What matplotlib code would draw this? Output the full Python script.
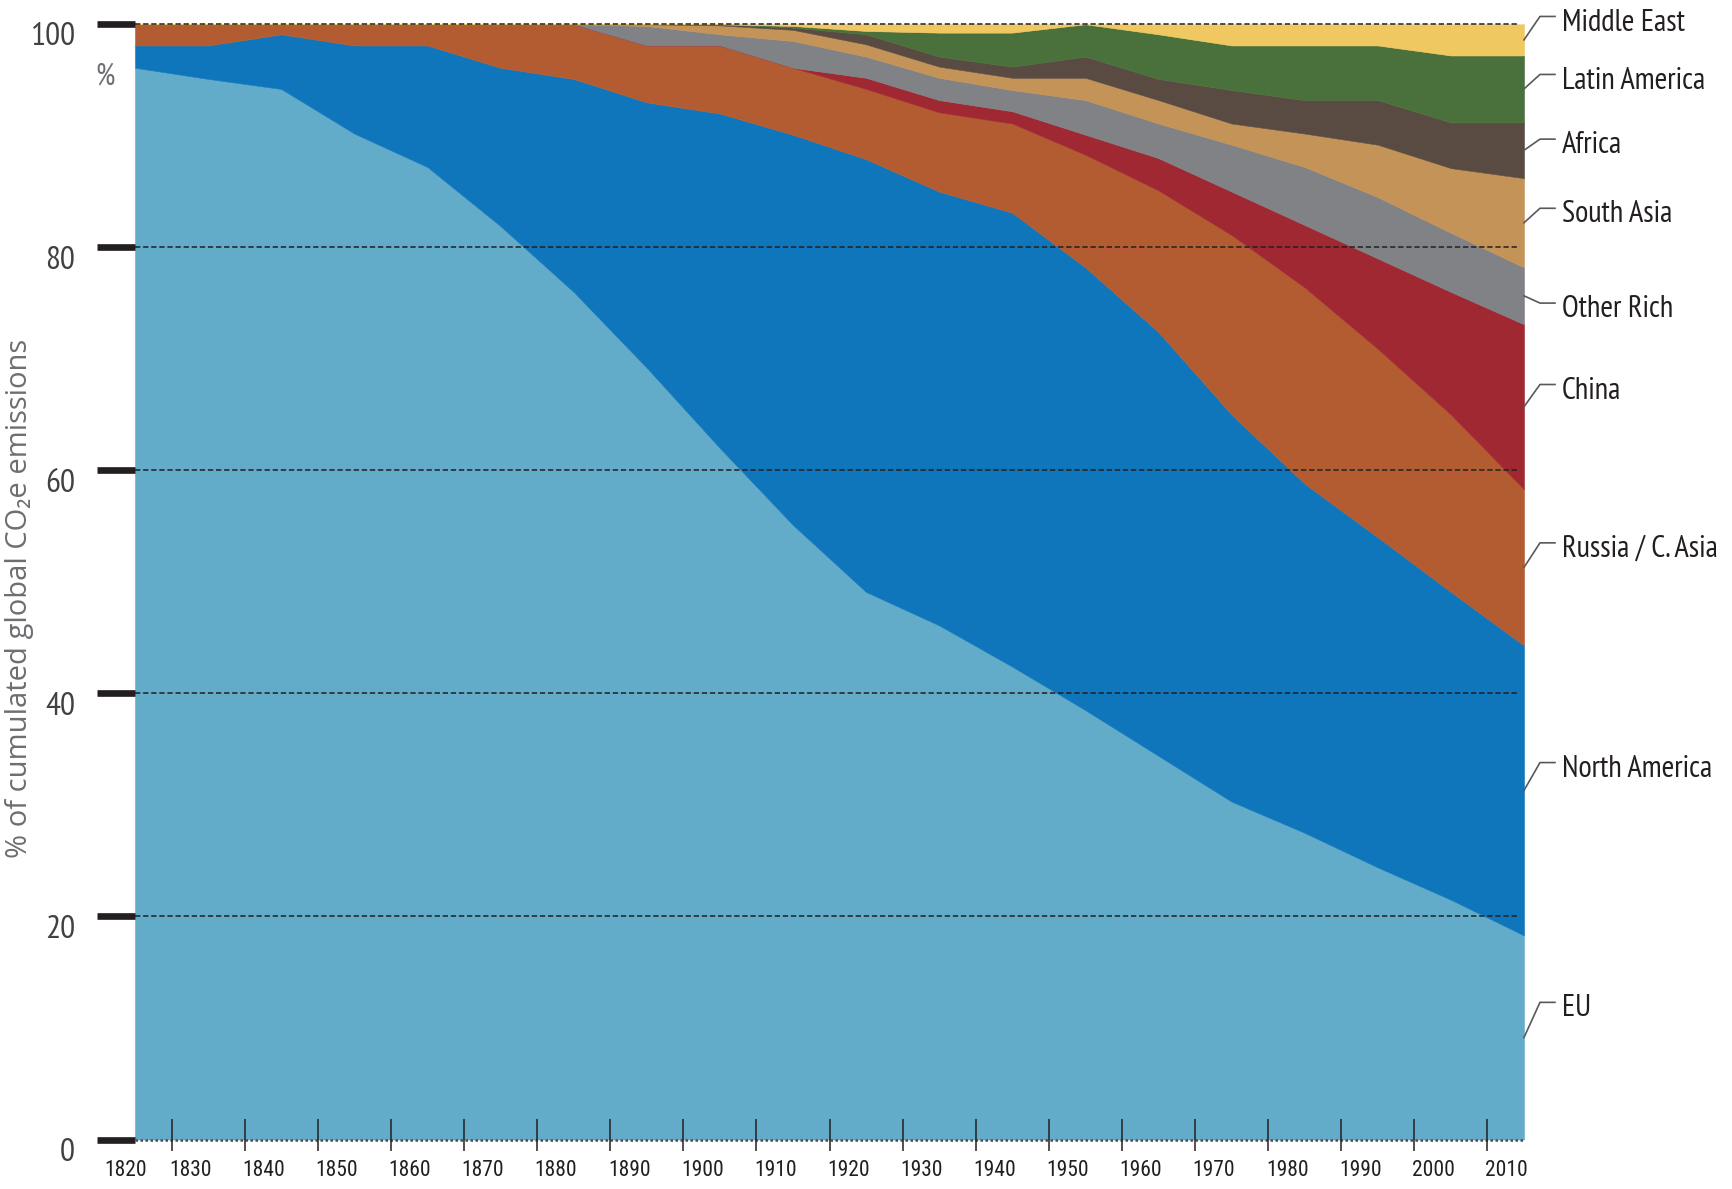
import matplotlib
matplotlib.use("Agg")
import matplotlib.pyplot as plt
import matplotlib.transforms as mtransforms

# data points sit at mid-decade (cumulated share, %)
years = [1825, 1835, 1845, 1855, 1865, 1875, 1885, 1895, 1905, 1915,
         1925, 1935, 1945, 1955, 1965, 1975, 1985, 1995, 2005, 2015]

regions = ["EU", "North America", "Russia / C. Asia", "China", "Other Rich",
           "South Asia", "Africa", "Latin America", "Middle East"]

eu = [96.1, 95.1, 94.2, 90.2, 87.2, 81.9, 76.0, 69.2, 62.0, 55.1,
      49.1, 46.1, 42.4, 38.5, 34.4, 30.3, 27.5, 24.4, 21.5, 18.3]
north_america = [2.0, 3.0, 4.9, 7.9, 10.9, 14.2, 19.1, 23.8, 30.0, 35.0,
                 38.8, 38.9, 40.7, 39.7, 38.0, 34.7, 31.3, 29.6, 27.6, 26.0]
russia = [1.9, 1.9, 0.9, 1.9, 1.9, 3.9, 4.9, 5.1, 6.1, 6.0,
          6.3, 7.1, 8.0, 10.1, 12.7, 16.1, 17.6, 16.9, 15.9, 14.0]
china = [0, 0, 0, 0, 0, 0, 0, 0, 0, 0,
         1.0, 1.1, 1.1, 1.8, 2.9, 3.9, 5.6, 8.1, 11.0, 14.8]
other_rich = [0, 0, 0, 0, 0, 0, 0, 1.75, 1.0, 2.4,
              1.9, 2.0, 1.9, 3.1, 3.1, 4.2, 5.2, 5.5, 5.3, 5.1]
south_asia = [0, 0, 0, 0, 0, 0, 0, 0.15, 0.8, 1.0,
              1.1, 1.0, 1.1, 2.0, 2.1, 1.9, 3.0, 4.7, 5.8, 8.0]
africa = [0, 0, 0, 0, 0, 0, 0, 0, 0.1, 0.2,
          0.9, 0.9, 1.0, 1.9, 1.9, 3.0, 3.0, 4.0, 4.1, 5.0]
latin_america = [0, 0, 0, 0, 0, 0, 0, 0, 0, 0.15,
                 0.3, 2.15, 3.05, 2.9, 4.0, 4.0, 4.9, 4.9, 6.0, 6.0]
middle_east = [0, 0, 0, 0, 0, 0, 0, 0, 0, 0.15,
               0.6, 0.75, 0.75, 0.0, 0.9, 1.9, 1.9, 1.9, 2.8, 2.8]

tick_years = [1830, 1840, 1850, 1860, 1870, 1880, 1890, 1900, 1910, 1920,
              1930, 1940, 1950, 1960, 1970, 1980, 1990, 2000, 2010]
label_years = [1820] + tick_years
y_ticks = [0, 20, 40, 60, 80, 100]

series = [eu, north_america, russia, china, other_rich,
          south_asia, africa, latin_america, middle_east]
colors = ["#62acc9", "#1076bc", "#b45c31", "#a02833", "#808285",
          "#c49358", "#594b42", "#4a703c", "#f0c862"]
# where each label's leader ends (y, %)
label_y = [12.3, 33.8, 53.5, 67.7, 75.0, 83.5, 89.7, 95.5, 100.7]

plt.rcParams['font.family'] = ['PT Sans Narrow', 'DejaVu Sans']
plt.rcParams['font.weight'] = 'normal'

fig = plt.figure(figsize=(17.33, 11.89), dpi=100)
ax = fig.add_axes([0.0779, 0.0416, 0.8015, 0.938])

ax.stackplot(years, *series, colors=colors, linewidth=0.4, edgecolor='face')
ax.set_xlim(1825, 2015)
ax.set_ylim(0, 100)

for s in ax.spines.values():
    s.set_visible(False)

# dashed guides
for v in y_ticks[1:]:
    ax.axhline(v, xmax=0.996, color='#231f20', lw=1.1, ls=(0, (3.5, 1.8)),
               zorder=3, clip_on=False)
ax.axhline(0, color='#4d4d4f', lw=1.8, ls=(0, (1, 1)), zorder=3, clip_on=False)

# y axis: thick bars, labels slightly below
ax.set_yticks(y_ticks)
ax.tick_params(axis='y', length=27.4, width=4.8, color='#231f20', pad=15.8,
               labelsize=24, labelcolor='#414042')
shift = mtransforms.ScaledTranslation(0, -0.097, fig.dpi_scale_trans)
for lab in ax.get_yticklabels():
    lab.set_transform(lab.get_transform() + shift)

# x axis: ticks crossing the baseline, labels right of the ticks
ax.set_xticks([])
xt = ax.get_xaxis_transform()
ax.vlines(tick_years, -0.0099, 0.018, transform=xt, color='#231f20', lw=1.1,
          clip_on=False, zorder=4)
for yr in label_years:
    xpos = yr + 2.6 if yr > 1820 else 1823.7
    ax.text(xpos, -0.0277, str(yr), transform=xt, ha='center', va='center',
            fontsize=15.5, color='#231f20',
            family=['Roboto Condensed', 'PT Sans Narrow', 'DejaVu Sans'])

ax.text(-0.0216, 0.9527, '%', transform=ax.transAxes, ha='center', va='center',
        fontsize=22, color='#6d6e71')
fig.text(20 / 1733, 1 - 598 / 1189, '% of cumulated global CO\u2082e emissions',
         rotation=90, ha='center', va='center', fontsize=21, color='#6d6e71',
         family=['Open Sans', 'DejaVu Sans'])

# region labels with leader lines
yt = mtransforms.blended_transform_factory(ax.transAxes, ax.transData)
base = 0
for name, s, ly in zip(regions, series, label_y):
    start = base + s[-1] / 2
    base += s[-1]
    ax.plot([1.0, 1.0115, 1.0223], [start, ly, ly], transform=yt,
            color='#58595b', lw=1.2, clip_on=False)
    ax.text(1.0271, ly - 0.55, name, transform=yt, ha='left', va='center',
            fontsize=22, color='#231f20')

fig.savefig('out.png', dpi=100)
